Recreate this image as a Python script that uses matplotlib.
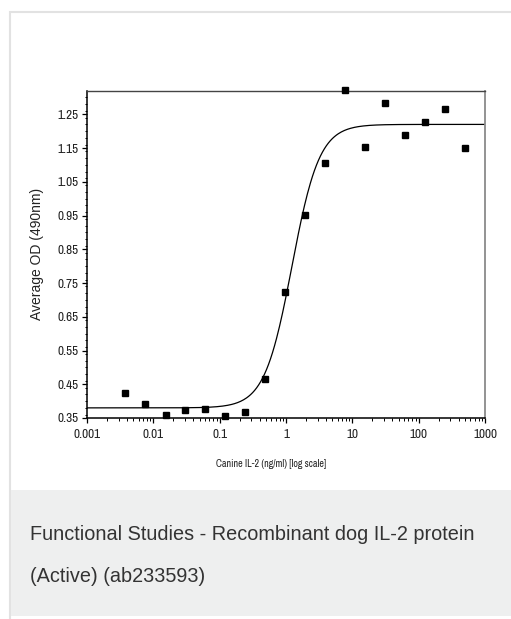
import matplotlib.pyplot as plt
import matplotlib.ticker as mticker
from matplotlib.patches import Rectangle
import numpy as np

# doubling dilution series of canine IL-2 (ng/ml) and the measured OD
conc = [0.0038, 0.0076, 0.0153, 0.0305, 0.061, 0.122, 0.244, 0.488, 0.977,
        1.95, 3.9, 7.8, 15.6, 31.25, 62.5, 125, 250, 500]
od = [0.423, 0.391, 0.360, 0.373, 0.377, 0.355, 0.367, 0.466, 0.723,
      0.952, 1.105, 1.321, 1.154, 1.284, 1.188, 1.226, 1.265, 1.150]

# 4-parameter logistic fit shown as the line
fit_bottom = 0.38
fit_top = 1.22
fit_ec50 = 1.23
fit_hill = 2.1

xticks = [0.001, 0.01, 0.1, 1, 10, 100, 1000]
xticklabels = ['0.001', '0.01', '0.1', '1', '10', '100', '1000']
yticks = [0.35, 0.45, 0.55, 0.65, 0.75, 0.85, 0.95, 1.05, 1.15, 1.25]

caption = 'Functional Studies - Recombinant dog IL-2 protein'
caption2 = '(Active) (ab233593)'

W, H = 511, 619
fig = plt.figure(figsize=(W / 100, H / 100), dpi=100)
fig.patch.set_facecolor('white')

def px(x, y):
    # pixel (from top-left) -> figure fraction
    return x / W, 1 - y / H

# outer frame and caption band
fig.patches.append(Rectangle(px(10, 640), (W + 20) / W, (640 - 12) / H,
                             transform=fig.transFigure, fill=False,
                             edgecolor='#e2e2e2', lw=1.5, zorder=0))
fig.patches.append(Rectangle(px(11, 616), (W - 11) / W, (616 - 490) / H,
                             transform=fig.transFigure, facecolor='#eeefef',
                             edgecolor='none', zorder=0))
fig.text(*px(30, 535), caption, fontsize=14.3, color='#333333',
         family='Liberation Sans', va='center', ha='left')
fig.text(*px(30, 577), caption2, fontsize=14.3, color='#333333',
         family='Liberation Sans', va='center', ha='left')

x0, x1, y0, y1 = 87, 485, 91, 418
ax = fig.add_axes([x0 / W, 1 - y1 / H, (x1 - x0) / W, (y1 - y0) / H])

xs = np.logspace(-3, 3, 400)
ys = fit_bottom + (fit_top - fit_bottom) / (1 + (fit_ec50 / xs) ** fit_hill)
ax.plot(xs, ys, color='black', lw=0.9, zorder=2)
ax.plot(conc, od, ls='none', marker='s', ms=5.0, color='black',
        clip_on=False, zorder=3)

ax.set_xscale('log')
ax.set_xlim(0.001, 1000)
ax.set_ylim(0.35, 1.319)

ax.set_xticks(xticks)
ax.set_xticklabels(xticklabels)
ax.xaxis.set_minor_locator(mticker.LogLocator(base=10, subs=np.arange(2, 10)))
ax.xaxis.set_minor_formatter(mticker.NullFormatter())
ax.set_yticks(yticks)
ax.set_yticklabels(['%.2f' % v for v in yticks])
ax.yaxis.set_minor_locator(mticker.MultipleLocator(0.02))

ax.tick_params(which='major', direction='out', length=3.6, width=0.9,
               labelsize=9.5, colors='black', pad=2.5)
ax.tick_params(which='minor', direction='out', length=1.8, width=0.7)
ax.tick_params(axis='x', which='major', pad=4.5)
narrow_fam = ['Archivo Narrow', 'Liberation Sans']
for lab in ax.get_xticklabels() + ax.get_yticklabels():
    lab.set_family(narrow_fam)
    lab.set_color('#222222')

for s in ['left', 'bottom']:
    ax.spines[s].set_color('black')
    ax.spines[s].set_linewidth(1.1)
ax.spines['top'].set_color('#444444')
ax.spines['top'].set_linewidth(1.0)
ax.spines['right'].set_color('#8a8a8a')
ax.spines['right'].set_linewidth(1.3)

ax.set_xlabel('Canine IL-2 (ng/ml) [log scale]', fontsize=7.2,
              family=narrow_fam, color='#222222', va='center')
ax.xaxis.set_label_coords((271 - x0) / (x1 - x0), (y1 - 464) / (y1 - y0))
ax.set_ylabel('Average OD (490nm)', fontsize=10, family='Liberation Sans',
              color='#222222', va='center')
ax.yaxis.set_label_coords((37 - x0) / (x1 - x0), (y1 - 254) / (y1 - y0))

fig.savefig('out.png', dpi=100)
